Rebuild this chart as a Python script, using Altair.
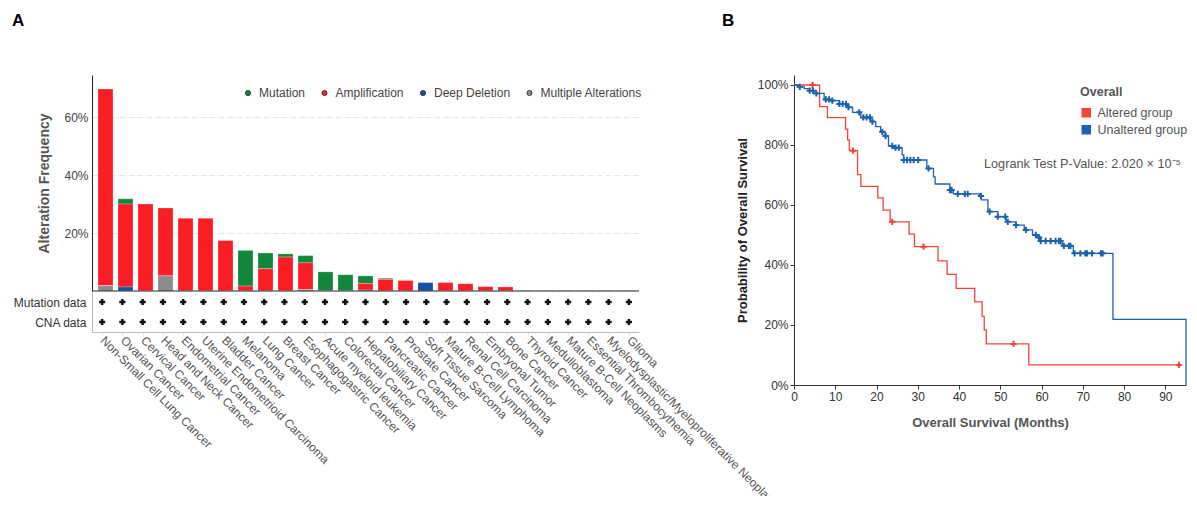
import altair as alt
import pandas as pd

# ---------------- Panel A data ----------------
categories = [
    "Non-Small Cell Lung Cancer", "Ovarian Cancer", "Cervical Cancer", "Head and Neck Cancer",
    "Endometrial Cancer", "Uterine Endometrioid Carcinoma", "Bladder Cancer", "Melanoma",
    "Lung Cancer", "Breast Cancer", "Esophagogastric Cancer", "Acute myeloid leukemia",
    "Colorectal Cancer", "Hepatobiliary Cancer", "Pancreatic Cancer", "Prostate Cancer",
    "Soft Tissue Sarcoma", "Mature B-Cell Lymphoma", "Renal Cell Carcinoma", "Embryonal Tumor",
    "Bone Cancer", "Thyroid Cancer", "Medulloblastoma", "Mature B-Cell Neoplasms",
    "Essential Thrombocythemia", "Myelodysplastic/Myeloproliferative Neoplasms", "Glioma",
]
mutation = [0, 1.8, 0, 0, 0, 0, 0, 12.3, 5.4, 1.1, 2.5, 6.6, 5.6, 2.6, 0.4, 0, 0, 0, 0, 0, 0,
            0.2, 0.2, 0.2, 0.2, 0.2, 0.2]
amplification = [67.9, 28.6, 30.0, 23.4, 25.1, 25.1, 17.4, 1.7, 7.7, 11.7, 9.2, 0, 0, 2.3, 4.0,
                 3.6, 0, 2.9, 2.5, 1.5, 1.4, 0, 0, 0, 0, 0, 0]
deep_deletion = [0, 1.4, 0, 0, 0, 0, 0, 0, 0, 0, 0, 0, 0, 0.3, 0, 0, 2.9, 0, 0, 0, 0,
                 0, 0, 0, 0, 0, 0]
multiple_alterations = [1.8, 0, 0, 5.2, 0, 0, 0, 0, 0, 0, 0.5, 0, 0, 0, 0, 0, 0, 0, 0, 0, 0,
                        0, 0, 0, 0, 0, 0]
alt_types = ["Mutation", "Amplification", "Deep Deletion", "Multiple Alterations"]
alt_colors = ["#12873b", "#fd1d25", "#134fa2", "#8c8a8d"]
stack_rank = [3, 2, 1, 0]
annotation_rows = ["Mutation data", "CNA data"]

# ---------------- Panel B data (Kaplan-Meier) ----------------
red_t = [0, 6.2, 8.1, 12.5, 13.0, 13.4, 15.4, 16.2, 20.3, 21.6, 23.3, 27.9, 29.2, 34.9, 37.1,
         39.3, 43.8, 45.6, 46.1, 46.6, 56.9, 93.3]
red_s = [100, 92.8, 89.1, 85.3, 81.7, 78.1, 70.1, 66.2, 62.4, 58.3, 54.4, 50.3, 46.1, 41.4, 36.9,
         32.2, 27.7, 22.9, 18.3, 13.7, 6.7, 6.7]
red_censor = [4.5, 14.3, 23.8, 31.4, 53.2, 93.3]
blue_t = [0, 1.0, 2.5, 3.8, 5.4, 7.3, 8.6, 11.0, 13.0, 14.2, 16.2, 18.6, 19.8, 21.0, 22.1, 22.9,
          24.6, 26.2, 26.6, 32.2, 33.8, 34.2, 37.8, 38.6, 45.0, 45.4, 47.0, 49.4, 51.4, 53.8,
          55.8, 57.8, 59.0, 59.8, 65.0, 67.7, 77.3, 95.0]
blue_s = [100, 99.4, 98.8, 98.1, 97.2, 95.2, 94.8, 93.7, 92.6, 90.9, 89.2, 87.8, 86.1, 84.4, 83.0,
          79.7, 79.1, 76.7, 75.0, 72.2, 69.4, 67.0, 65.0, 63.7, 63.0, 61.7, 57.8, 56.1, 54.4, 53.3,
          51.7, 50.0, 49.2, 48.0, 46.4, 43.9, 21.9, 0]
blue_censor = [1.4, 3.8, 4.6, 5.4, 7.7, 8.5, 9.3, 11.0, 11.8, 12.6, 13.2, 15.8, 16.8, 17.6, 18.4,
               19.0, 21.4, 22.2, 23.8, 24.6, 25.4, 26.6, 27.4, 28.2, 29.0, 30.1, 32.6, 37.8,
               38.2, 39.7, 41.4, 42.1, 45.3, 47.4, 49.4, 51.2, 51.8, 53.8, 56.2, 58.6, 59.4,
               59.8, 61.0, 62.2, 63.4, 64.2, 64.6, 65.4, 66.6, 67.0, 68.0, 69.4, 70.6, 71.0,
               72.2, 74.4, 74.8]
groups = ["Altered group", "Unaltered group"]
group_colors = ["#f3443a", "#1d62ae"]
pvalue_text = "Logrank Test P-Value: 2.020 × 10⁻⁵"

FONT = "Liberation Sans"

# ---------------- Panel A ----------------
rows = []
series = [mutation, amplification, deep_deletion, multiple_alterations]
for i, c in enumerate(categories):
    for t, vals, r in zip(alt_types, series, stack_rank):
        rows.append({"cancer": c, "type": t, "freq": vals[i] / 100.0, "rank": r})
bar_df = pd.DataFrame(rows)

x_scale = alt.Scale(domain=categories, paddingInner=0.25, paddingOuter=0.3)

bars = alt.Chart(bar_df).mark_bar(stroke="#ffffff", strokeOpacity=0.3, strokeWidth=0.8).encode(
    x=alt.X("cancer:N", sort=categories, scale=x_scale, axis=None),
    y=alt.Y("freq:Q", stack="zero",
            scale=alt.Scale(domain=[0, 0.745], nice=False),
            axis=alt.Axis(values=[0.2, 0.4, 0.6], format=".0%", title="Alteration Frequency",
                          grid=True, gridDash=[6, 3], gridColor="#e6e6e6", domainColor="#222",
                          ticks=False, labelFontSize=12, labelColor="#444", labelPadding=4,
                          titleFontSize=14, titleFontWeight="bold", titleColor="#555",
                          titlePadding=12)),
    color=alt.Color("type:N", scale=alt.Scale(domain=alt_types, range=alt_colors),
                    legend=alt.Legend(title=None, orient="none", direction="horizontal",
                                      legendX=150, legendY=12, symbolType="circle",
                                      symbolSize=26, symbolStrokeColor="#222",
                                      symbolStrokeWidth=0.8, labelFontSize=12,
                                      labelColor="#444", labelOffset=5, columnPadding=12.5)),
    order=alt.Order("rank:Q", sort="ascending"),
)
baseline = alt.Chart(pd.DataFrame({"v": [0.0]})).mark_rule(color="#222", strokeWidth=1).encode(
    y="v:Q")
bar_chart = alt.layer(bars, baseline).properties(width=547, height=216)

ann_df = pd.DataFrame([{"cancer": c, "row": r} for r in annotation_rows for c in categories])
ann_chart = alt.Chart(ann_df).mark_point(shape="cross", filled=True, color="#111", size=38,
                                         opacity=1).encode(
    x=alt.X("cancer:N", sort=categories, scale=x_scale,
            axis=alt.Axis(title=None, labelAngle=45, labelAlign="left", labelBaseline="middle",
                          labelFontSize=12, labelColor="#555", domainColor="#bbb",
                          tickColor="#ddd", tickSize=3, labelPadding=3, labelLimit=250)),
    y=alt.Y("row:N", sort=annotation_rows,
            scale=alt.Scale(paddingInner=0.1, paddingOuter=0.1),
            axis=alt.Axis(title=None, ticks=False, domainColor="#bbb", labelFontSize=12,
                          labelColor="#333", labelPadding=6)),
).properties(width=547, height=40)

panel_a = alt.vconcat(bar_chart, ann_chart, spacing=0).properties(
    title=alt.Title("A", anchor="start", frame="group", dx=-80, offset=45, fontSize=17,
                    fontWeight="bold", color="#000"))

# ---------------- Panel B ----------------
def step_value(ts, ss, t):
    v = ss[0]
    for tt, s in zip(ts, ss):
        if tt <= t:
            v = s
    return v

km_rows = []
for g, ts, ss in [(groups[0], red_t, red_s), (groups[1], blue_t, blue_s)]:
    for t, s in zip(ts, ss):
        km_rows.append({"group": g, "time": t, "surv": s / 100.0})
km_df = pd.DataFrame(km_rows)

cens_rows = []
for g, ts, ss, cs in [(groups[0], red_t, red_s, red_censor), (groups[1], blue_t, blue_s, blue_censor)]:
    for c in cs:
        cens_rows.append({"group": g, "time": c, "surv": step_value(ts, ss, c) / 100.0})
cens_df = pd.DataFrame(cens_rows)

color_scale_b = alt.Scale(domain=groups, range=group_colors)

xb = alt.X("time:Q", scale=alt.Scale(domain=[0, 95], nice=False, zero=True),
           axis=alt.Axis(values=list(range(0, 96, 5)), title="Overall Survival (Months)",
                         grid=False, domainColor="#333", tickColor="#333", tickSize=4,
                         labelFontSize=12, labelColor="#333", labelPadding=2,
                         titleFontSize=13, titleFontWeight="bold", titleColor="#555",
                         titlePadding=14, labelFlush=False))
yb = alt.Y("surv:Q", scale=alt.Scale(domain=[0, 1.0333], nice=False),
           axis=alt.Axis(values=[i / 10 for i in range(11)], format=".0%",
                         title="Probability of Overall Survival", grid=False,
                         domainColor="#333", tickColor="#333", tickSize=4, labelFontSize=12,
                         labelColor="#333", labelPadding=2, titleFontSize=13,
                         titleFontWeight="bold", titleColor="#222", titlePadding=8))

km_key = alt.Chart(km_df).mark_square(size=0, opacity=1).encode(
    x=xb, y=yb,
    color=alt.Color("group:N", scale=color_scale_b,
                    legend=alt.Legend(title="Overall", orient="none", legendX=286, legendY=11,
                                      titleFontSize=12.5, titleFontWeight="bold",
                                      titleColor="#555", labelFontSize=12.5, labelColor="#555",
                                      titlePadding=8, rowPadding=2, symbolSize=64,
                                      symbolType="square", labelOffset=5)))
km_lines = alt.Chart(km_df).mark_line(interpolate="step-after", strokeWidth=1.3).encode(
    x="time:Q", y="surv:Q", color=alt.Color("group:N", scale=color_scale_b, legend=None))
km_cens = alt.Chart(cens_df).mark_point(shape="M-1,0H1M0,-1V1", size=40, strokeWidth=2,
                                        filled=False, opacity=1).encode(
    x="time:Q", y="surv:Q", color=alt.Color("group:N", scale=color_scale_b, legend=None))
p_text = alt.Chart(pd.DataFrame({"label": [pvalue_text]})).mark_text(
    align="left", baseline="middle", fontSize=12.7, color="#555").encode(
    x=alt.value(190), y=alt.value(89), text="label:N")

panel_b = alt.layer(km_key, km_lines, km_cens, p_text).properties(
    width=392, height=310,
    title=alt.Title("B", anchor="start", frame="group", dx=-72, offset=45, fontSize=17,
                    fontWeight="bold", color="#000"))

chart = alt.hconcat(panel_a, panel_b, spacing=-65).resolve_scale(
    color="independent").configure(font=FONT).configure_view(stroke=None).properties(
    padding={"left": 4, "top": 4, "right": 0, "bottom": -20})

chart.save("out.html", embed_options={"renderer": "svg", "actions": False})
